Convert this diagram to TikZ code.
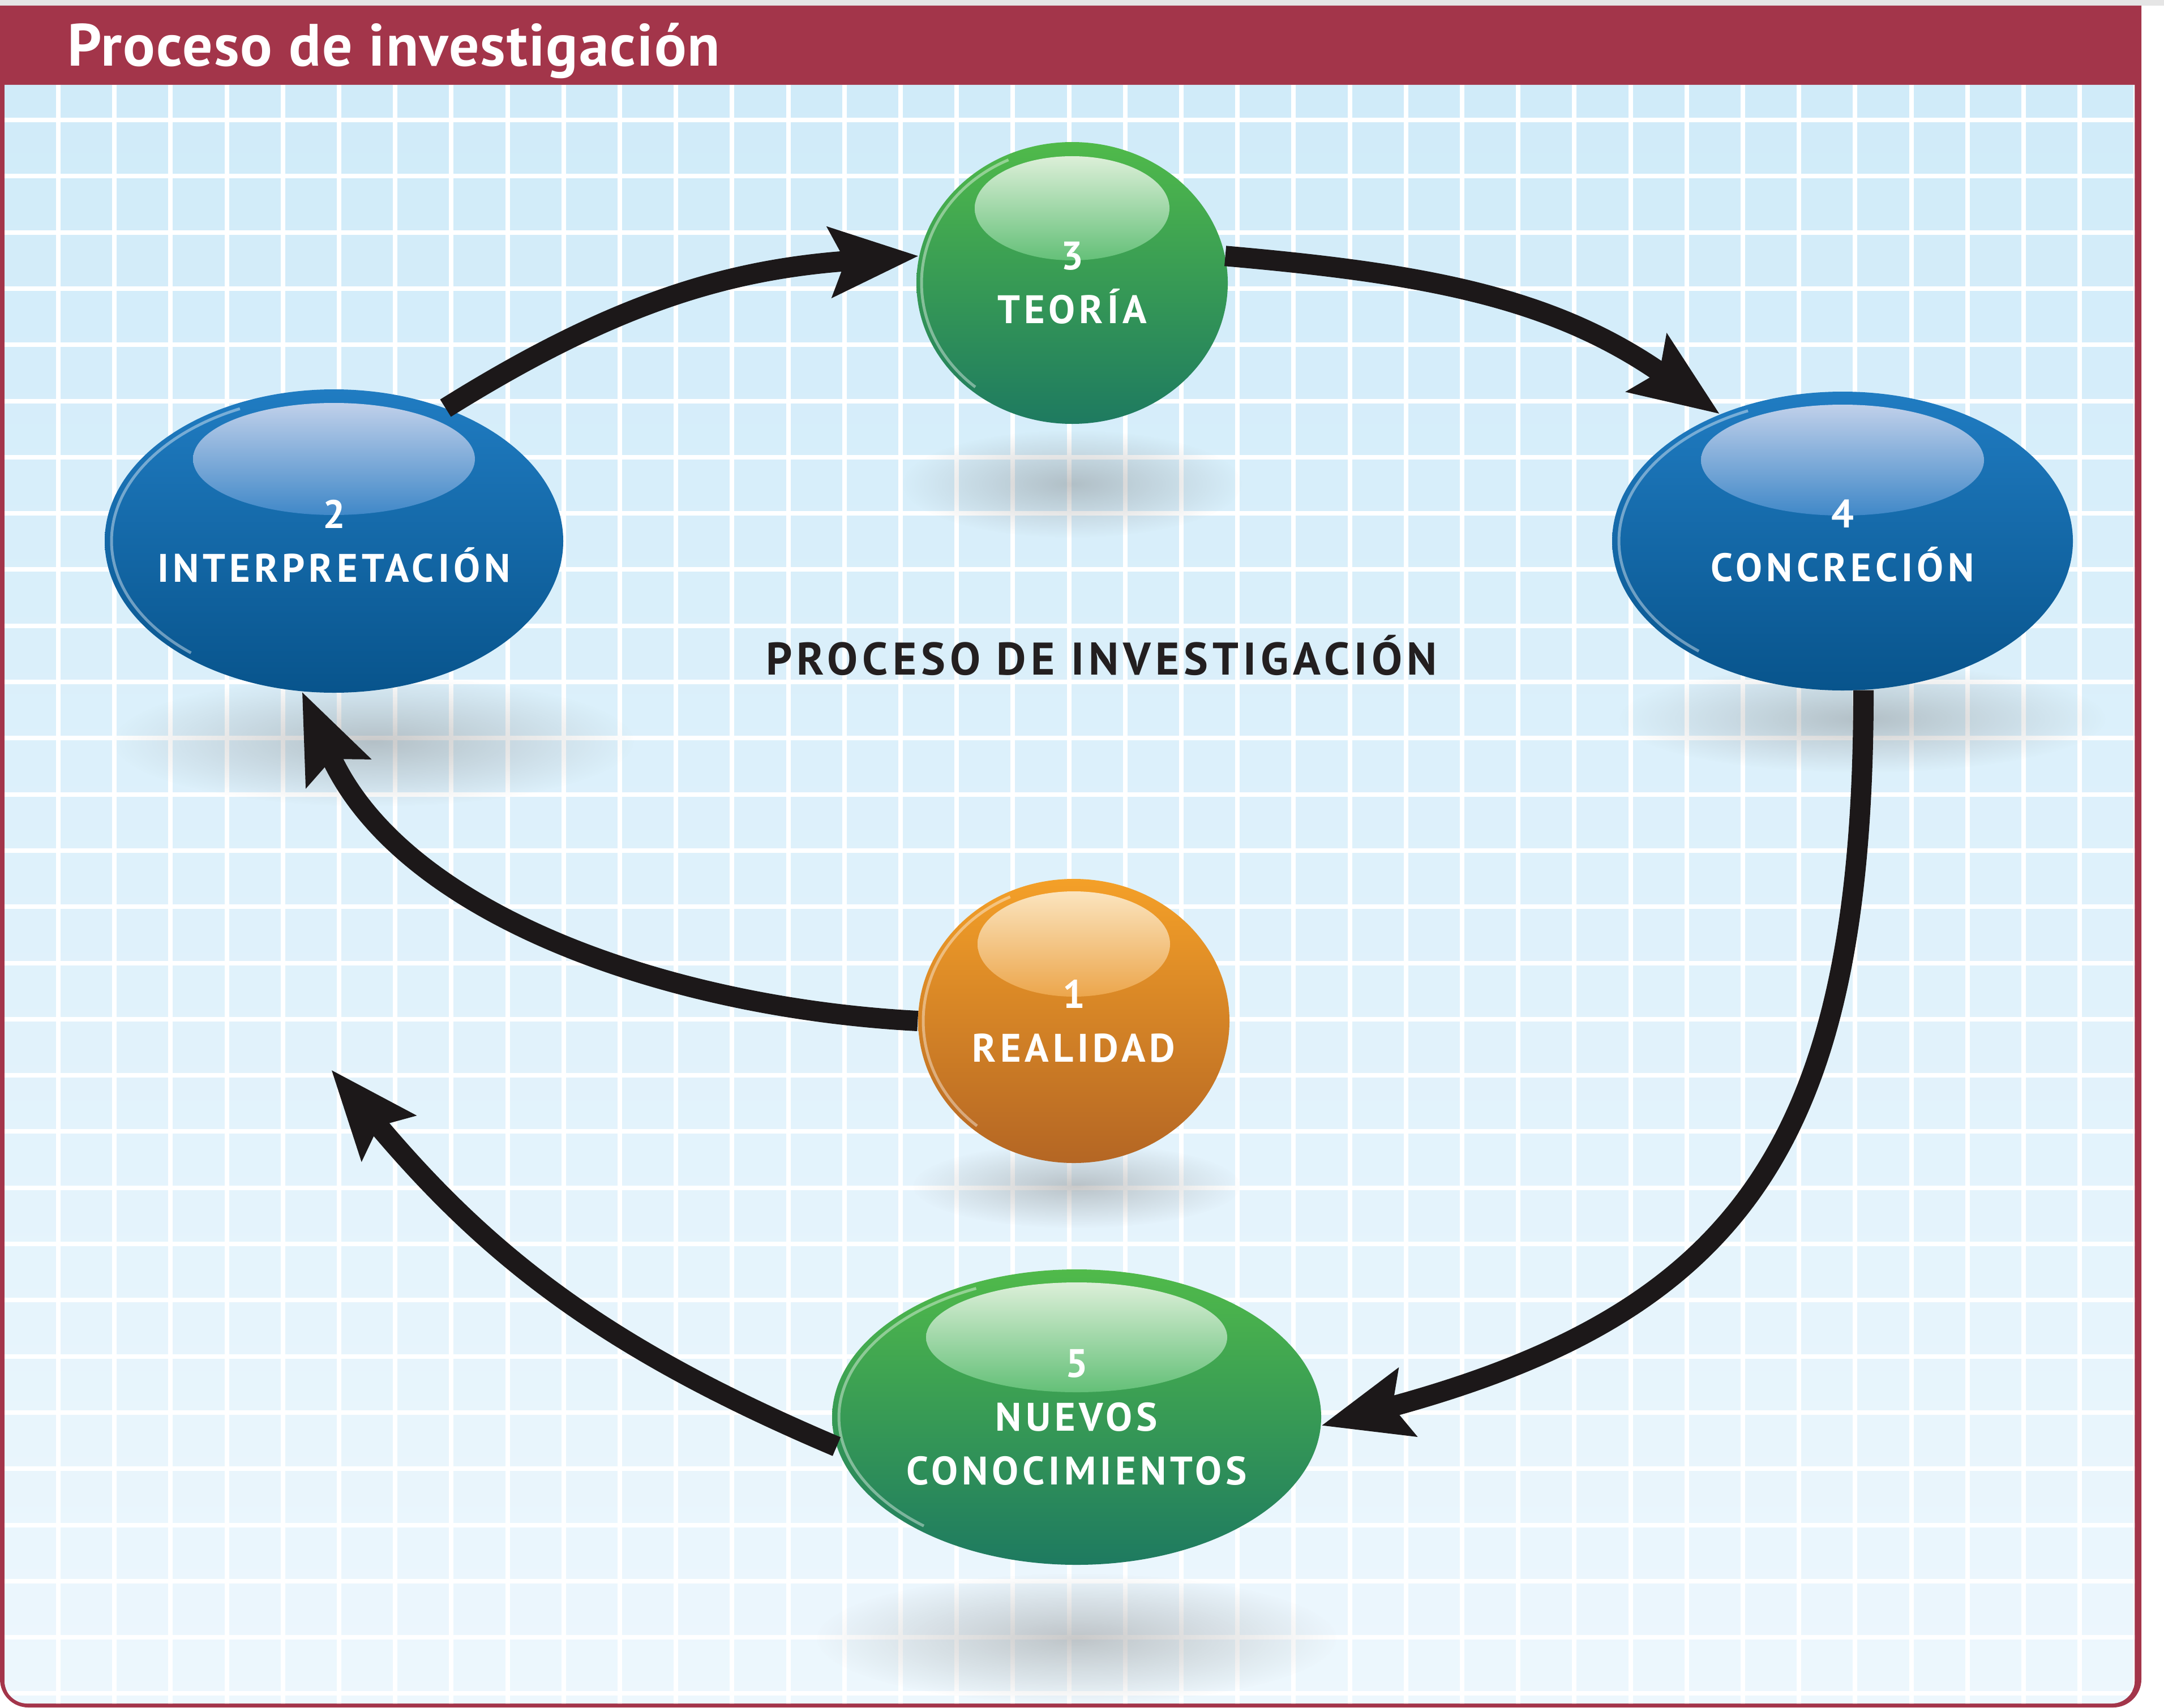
\documentclass[tikz,border=0pt]{standalone}
\usepackage{fontspec}
\setmainfont{PT Sans}
\newfontfamily\espaciada[LetterSpace=10]{PT Sans}
\newfontfamily\titulofont[LetterSpace=2]{PT Sans}
\usepackage{tikz}
\usetikzlibrary{shapes.geometric,arrows.meta,fadings}

\definecolor{rojoborde}{RGB}{163,53,74}
\definecolor{fondoarriba}{RGB}{208,235,249}
\definecolor{fondoabajo}{RGB}{237,247,253}
\definecolor{azularriba}{RGB}{32,124,194}
\definecolor{azulabajo}{RGB}{8,84,140}
\definecolor{azulbrillo}{RGB}{192,208,234}
\definecolor{azulbrillob}{RGB}{64,136,200}
\definecolor{verdearriba}{RGB}{80,186,74}
\definecolor{verdeabajo}{RGB}{30,122,96}
\definecolor{verdebrillo}{RGB}{220,239,216}
\definecolor{verdebrillob}{RGB}{100,192,120}
\definecolor{naranjaarriba}{RGB}{244,160,40}
\definecolor{naranjaabajo}{RGB}{180,102,36}
\definecolor{naranjabrillo}{RGB}{251,228,190}
\definecolor{naranjabrillob}{RGB}{236,166,76}
\definecolor{flechanegra}{RGB}{28,24,25}
\definecolor{textooscuro}{RGB}{35,31,32}

\tikzfading[name=sombrafade, inner color=transparent!0, outer color=transparent!100]

\tikzset{
  bola/.style={ellipse, inner sep=0pt},
  azul/.style={top color=azularriba, bottom color=azulabajo},
  verde/.style={top color=verdearriba, bottom color=verdeabajo},
  naranja/.style={top color=naranjaarriba, bottom color=naranjaabajo},
  brilloazul/.style={top color=azulbrillo, bottom color=azulbrillob},
  brilloverde/.style={top color=verdebrillo, bottom color=verdebrillob},
  brillonaranja/.style={top color=naranjabrillo, bottom color=naranjabrillob},
  canto/.style={white, opacity=0.4, line width=0.05cm},
  sombra/.style={fill=black!55, opacity=0.38, path fading=sombrafade},
  rejilla/.style={white, line width=0.08cm},
  rotulo/.style={text=white, font=\espaciada\bfseries\fontsize{20}{27}\selectfont, align=center},
  titulo/.style={text=white, font=\titulofont\bfseries\fontsize{30}{34}\selectfont, anchor=base west},
  central/.style={text=textooscuro, font=\espaciada\bfseries\fontsize{23}{28}\selectfont},
  flecha/.style={flechanegra, line width=0.36cm,
    -{Stealth[length=1.55cm, width=1.2cm, inset=0.25cm]}}
}

\begin{document}
\begin{tikzpicture}
   \useasboundingbox (0,0) rectangle (38.23,-30.17);
   \fill[white] (0,0) rectangle (38.23,-30.17);
   \fill[black!10] (0,0) rectangle (38.23,-0.10);
   % marco
   \fill[rojoborde] (0,-0.10) -- (37.83,-0.10) -- (37.83,-20) [rounded corners=0.5cm]
      -- (37.83,-30.17) -- (0,-30.17) -- (0,-20) [sharp corners] -- cycle;
   \begin{scope}
      \clip (0.08,-1.50) -- (37.71,-1.50) -- (37.71,-20) [rounded corners=0.4cm]
         -- (37.71,-30.10) -- (0.08,-30.10) -- (0.08,-20) [sharp corners] -- cycle;
      \shade[top color=fondoarriba, bottom color=fondoabajo] (0,-1.5) rectangle (38,-30.2);
      \foreach \i in {0,...,37}
         \draw[rejilla] ({1.03+0.992*\i},-1.5) -- ++(0,-29);
      \foreach \j in {0,...,28}
         \draw[rejilla] (0,{-2.12-0.993*\j}) -- ++(38,0);
   \end{scope}
   \node[titulo] (titulo) at (1.07,-1.17) {Proceso de investigación};

   % sombras
   \fill[sombra] (18.94,-8.55) ellipse (3.0 and 0.95);
   \fill[sombra] (6.60,-13.10) ellipse (4.6 and 1.15);
   \fill[sombra] (32.90,-12.70) ellipse (4.3 and 0.95);
   \fill[sombra] (19.02,-20.95) ellipse (2.9 and 0.75);
   \fill[sombra] (19.02,-28.95) ellipse (4.6 and 1.15);

   % esferas
   \node[bola, verde, minimum width=5.50cm, minimum height=4.98cm] (teoria) at (18.94,-5.00) {};
   \shade[brilloverde] (18.94,-3.68) ellipse (1.72 and 0.92);
   \draw[canto] ([shift={(115:2.66 and 2.40)}]teoria.center) arc[start angle=115, end angle=230, x radius=2.66, y radius=2.40];
   \node[rotulo] (rteoria) at (teoria) {3\\TEORÍA};

   \node[bola, azul, minimum width=8.10cm, minimum height=5.36cm] (interp) at (5.90,-9.56) {};
   \shade[brilloazul] (5.90,-8.11) ellipse (2.49 and 0.99);
   \draw[canto] ([shift={(115:3.93 and 2.58)}]interp.center) arc[start angle=115, end angle=230, x radius=3.93, y radius=2.58];
   \node[rotulo] (rinterp) at (interp) {2\\INTERPRETACIÓN};

   \node[bola, azul, minimum width=8.14cm, minimum height=5.28cm] (concrecion) at (32.55,-9.56) {};
   \shade[brilloazul] (32.55,-8.13) ellipse (2.50 and 0.98);
   \draw[canto] ([shift={(115:3.95 and 2.54)}]concrecion.center) arc[start angle=115, end angle=230, x radius=3.95, y radius=2.54];
   \node[rotulo] (rconcrecion) at (concrecion) {4\\CONCRECIÓN};

   \node[bola, naranja, minimum width=5.50cm, minimum height=5.02cm] (realidad) at (18.97,-18.04) {};
   \shade[brillonaranja] (18.97,-16.68) ellipse (1.70 and 0.93);
   \draw[canto] ([shift={(115:2.66 and 2.42)}]realidad.center) arc[start angle=115, end angle=230, x radius=2.66, y radius=2.42];
   \node[rotulo] (rrealidad) at (realidad) {1\\REALIDAD};

   \node[bola, verde, minimum width=8.64cm, minimum height=5.22cm] (nuevos) at (19.02,-25.04) {};
   \shade[brilloverde] (19.02,-23.63) ellipse (2.66 and 0.97);
   \draw[canto] ([shift={(115:4.20 and 2.51)}]nuevos.center) arc[start angle=115, end angle=230, x radius=4.20, y radius=2.51];
   \node[rotulo] (rnuevos) at (nuevos) {5\\NUEVOS\\CONOCIMIENTOS};

   \node[central] (proceso) at (19.46,-11.58) {PROCESO DE INVESTIGACIÓN};

   % flechas
   \coordinate (libre) at (5.85,-18.90);
   \draw[flecha] (interp.50) to[out=32,in=184] (teoria.170);
   \draw[flecha] (teoria.10) to[out=-5,in=145] (concrecion.134);
   \draw[flecha] (concrecion.-82) .. controls +(0,-8) and +(7.4,2) .. (nuevos.-2);
   \draw[flecha] (realidad.west) to[out=177,in=-66,looseness=0.9] (interp.258);
   \draw[flecha] (nuevos.187) to[out=157,in=-50] (libre);
\end{tikzpicture}
\end{document}
